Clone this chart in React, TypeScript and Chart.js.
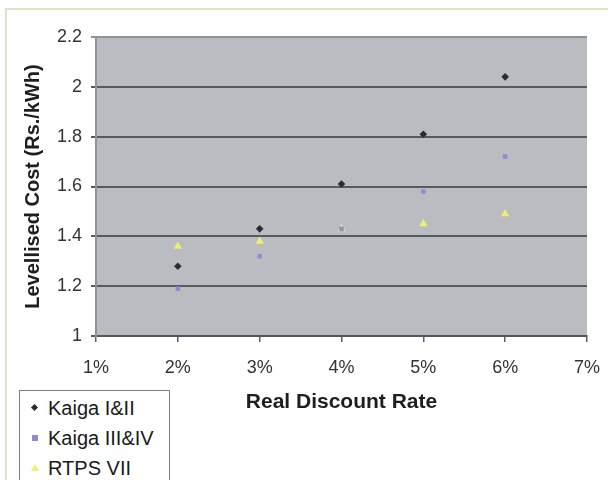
import React, { useEffect, useRef } from "react";
import { Chart, registerables } from "chart.js";

Chart.register(...registerables);

// ---- data ----
const rates = [2, 3, 4, 5, 6]; // real discount rate (%)
const kaiga12 = [1.28, 1.43, 1.61, 1.81, 2.04];
const kaiga34 = [1.19, 1.32, 1.43, 1.58, 1.72];
const rtps7 = [1.36, 1.38, 1.43, 1.45, 1.49];
const seriesNames = ["Kaiga I&II", "Kaiga III&IV", "RTPS VII"];
const xTickLabels = ["1%", "2%", "3%", "4%", "5%", "6%", "7%"];
const yTickLabels = ["1", "1.2", "1.4", "1.6", "1.8", "2", "2.2"];
const xTitle = "Real Discount Rate";
const yTitle = "Levellised Cost (Rs./kWh)";

// ---- styles ----
const FONT = "'Liberation Sans', Arial, sans-serif";
const seriesColors = ["#272b36", "#9488d6", "#eeee72"];
const seriesStyles = ["rectRot", "rect", "triangle"];
const seriesRadius = [3.8, 3.2, 4.8];

const plotBg = {
  id: "plotBg",
  beforeDraw(chart: any) {
    const { ctx, chartArea: a } = chart;
    ctx.save();
    ctx.fillStyle = "#b9bdc1";
    ctx.fillRect(a.left, a.top, a.right - a.left, a.bottom - a.top);
    ctx.restore();
  },
};

function LegendMarker({ i }: { i: number }) {
  const c = seriesColors[i];
  if (i === 0)
    return (
      <div
        style={{
          position: "absolute",
          left: 12,
          top: -3,
          width: 5,
          height: 5,
          background: c,
          transform: "rotate(45deg)",
        }}
      />
    );
  if (i === 1)
    return (
      <div
        style={{ position: "absolute", left: 12, top: -3, width: 6, height: 6, background: c }}
      />
    );
  return (
    <div
      style={{
        position: "absolute",
        left: 11,
        top: -4,
        width: 0,
        height: 0,
        borderLeft: "4px solid transparent",
        borderRight: "4px solid transparent",
        borderBottom: `7px solid ${c}`,
      }}
    />
  );
}

export default function App() {
  const ref = useRef<HTMLCanvasElement | null>(null);

  useEffect(() => {
    if (!ref.current) return;
    const series = [kaiga12, kaiga34, rtps7];
    const chart = new Chart(ref.current, {
      type: "scatter",
      data: {
        datasets: series.map((vals, i) => ({
          label: seriesNames[i],
          data: rates.map((r, j) => ({ x: r, y: vals[j] })),
          backgroundColor: seriesColors[i],
          borderColor: seriesColors[i],
          borderWidth: 0,
          pointStyle: seriesStyles[i] as any,
          pointRadius: seriesRadius[i],
          showLine: false,
        })),
      },
      options: {
        animation: false,
        responsive: false,
        maintainAspectRatio: false,
        layout: { padding: { top: 37, right: 21, left: 0, bottom: 0 } },
        plugins: {
          legend: { display: false },
          tooltip: { enabled: false },
        },
        scales: {
          x: {
            type: "linear",
            min: 1,
            max: 7,
            afterFit: (s: any) => {
              s.height = 144;
              s.paddingLeft = 0;
              s.paddingRight = 0;
            },
            ticks: {
              stepSize: 1,
              padding: 15,
              color: "#333",
              font: { family: FONT, size: 18 },
              callback: (_v: any, idx: number) => xTickLabels[idx],
            },
            grid: {
              drawOnChartArea: false,
              drawTicks: true,
              tickLength: 6,
              color: "#5a5e62",
              lineWidth: 1.5,
            },
            border: { display: true, color: "#54585c", width: 2 },
            title: {
              display: true,
              text: xTitle,
              color: "#1e1e1e",
              font: { family: FONT, size: 21, weight: "bold" },
              padding: { top: 0, bottom: 65 },
            },
          },
          y: {
            type: "linear",
            min: 1,
            max: 2.2,
            afterFit: (s: any) => {
              s.width = 96;
            },
            ticks: {
              stepSize: 0.2,
              padding: 9,
              color: "#333",
              font: { family: FONT, size: 18 },
              callback: (_v: any, idx: number) => yTickLabels[idx],
            },
            grid: {
              drawTicks: true,
              tickLength: 5,
              lineWidth: 2,
              color: (ctx: any) =>
                ctx.tick && ctx.tick.value > 2.15 ? "#8f9397" : "#575b5f",
            },
            border: { display: true, color: "#8f9397", width: 2 },
            title: {
              display: true,
              text: yTitle,
              color: "#1e1e1e",
              font: { family: FONT, size: 20, weight: "bold" },
              padding: { top: 21, bottom: 0 },
            },
          },
        },
      },
      plugins: [plotBg],
    });
    return () => chart.destroy();
  }, []);

  return (
    <div
      style={{
        position: "fixed",
        left: 0,
        top: 0,
        width: 608,
        height: 480,
        overflow: "hidden",
        background: "#fff",
      }}
    >
      <div
        style={{
          position: "absolute",
          left: 5,
          top: 8,
          width: 700,
          height: 600,
          borderLeft: "2px solid #d5e7c4",
          borderTop: "2px solid #d5e7c4",
        }}
      />
      <canvas
        ref={ref}
        width={608}
        height={480}
        style={{ position: "absolute", left: 0, top: 0, width: 608, height: 480 }}
      />
      <div
        style={{
          position: "absolute",
          left: 19,
          top: 390,
          width: 151,
          height: 120,
          border: "1px solid #7f7f7f",
          background: "#fff",
          boxSizing: "border-box",
        }}
      >
        {seriesNames.map((n, i) => (
          <div
            key={n}
            style={{ position: "absolute", left: 0, top: 17 + i * 30, width: 148, height: 0 }}
          >
            <LegendMarker i={i} />
            <div
              style={{
                position: "absolute",
                left: 28,
                top: -12,
                fontFamily: FONT,
                fontSize: 20,
                lineHeight: "24px",
                color: "#1a1a1a",
                whiteSpace: "nowrap",
              }}
            >
              {n}
            </div>
          </div>
        ))}
      </div>
    </div>
  );
}
